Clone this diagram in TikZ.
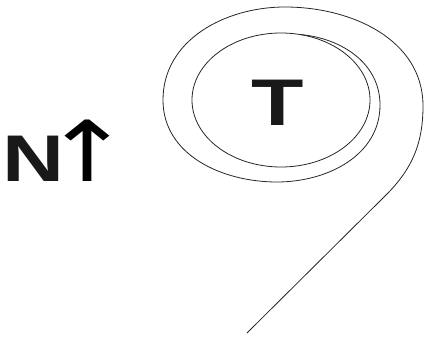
\documentclass[tikz,border=0pt]{standalone}
\usepackage{fontspec}
\setmainfont{Liberation Sans}
\newfontfamily\arrowfont{DejaVu Sans}
\begin{document}
\begin{tikzpicture}[x=1pt,y=1pt,
  curve/.style={draw=black!85,line width=0.8pt},
  bigtext/.style={font=\bfseries\fontsize{66}{66}\selectfont,inner sep=0pt,text=black!90}]
\useasboundingbox (0,0) rectangle (424,338);
% inner ellipse
\draw[curve] (281,238) ellipse [x radius=89, y radius=67];
\node[bigtext,anchor=base] (t) at (278,212) {\scalebox{1.3}[1]{T}};
\node[bigtext,anchor=base west] (n) at (2,156)
  {\scalebox{1.3}[1]{N}\hspace{3pt}\makebox[40pt][c]{\arrowfont\mdseries\fontsize{84}{84}\selectfont\color{black}\scalebox{1.25}[1]{↑}}};
% spiral
\coordinate (s0) at (300,303.5);
\coordinate (s1) at (380,233);
\coordinate (s2) at (277,156);
\coordinate (s3) at (163,238);
\coordinate (s4) at (285,331);
\coordinate (s5) at (423,232);
\coordinate (s6) at (383,140);
\coordinate (s7) at (247,5);
\draw[curve] (s0) to[out=-5,in=90] (s1) to[out=-90,in=0] (s2)
  to[out=180,in=-90] (s3) to[out=90,in=180] (s4) to[out=0,in=90] (s5)
  to[out=-90,in=44] (s6) -- (s7);
\end{tikzpicture}
\end{document}
